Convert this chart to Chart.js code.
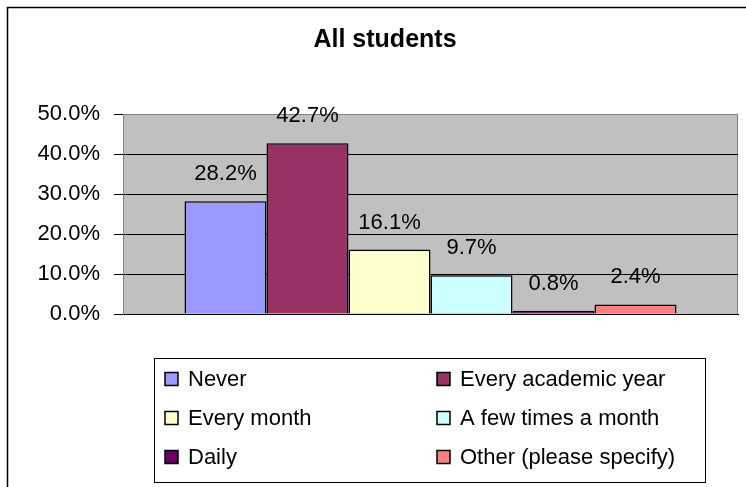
<!DOCTYPE html>
<html>
<head>
<meta charset="utf-8">
<script src="https://cdn.jsdelivr.net/npm/chart.js@4"></script>
<style>
  html, body { margin: 0; padding: 0; background: #fff; }
  canvas { display: block; }
</style>
</head>
<body>
<canvas id="myChart" width="746" height="487"></canvas>
<script>
"use strict"

const TITLE = "All students"
const CATEGORIES = [""]
const SERIES_NAMES = ["Never", "Every academic year", "Every month", "A few times a month", "Daily", "Other (please specify)"]
const SERIES_VALUES = [28.2, 42.7, 16.1, 9.7, 0.8, 2.4]
const SERIES_COLORS = ["#9999FF", "#993366", "#FFFFCC", "#CCFFFF", "#660066", "#FF8080"]
const Y_TICKS = [0, 10, 20, 30, 40, 50]

const FONT = "'Liberation Sans', Arial, sans-serif"

function pct(v) {
    return v.toFixed(1) + "%"
}

// grey plot area + page frame + title
const backdrop = {
    id: 'backdrop',
    beforeDraw(chart) {
        const ctx = chart.ctx
        const a = chart.chartArea
        ctx.save()
        ctx.fillStyle = "#fff"
        ctx.fillRect(0, 0, chart.width, chart.height)

        ctx.strokeStyle = "#000"
        ctx.lineWidth = 1.5
        ctx.strokeRect(7.5, 7.5, 900, 700)

        ctx.fillStyle = "#C0C0C0"
        ctx.fillRect(a.left, a.top, a.right - a.left, a.bottom - a.top)
        ctx.strokeStyle = "#808080"
        ctx.lineWidth = 1
        ctx.strokeRect(a.left + 0.5, a.top + 0.5, a.right - a.left - 1, a.bottom - a.top)

        ctx.fillStyle = "#000"
        ctx.font = "bold 25px " + FONT
        ctx.textAlign = "center"
        ctx.textBaseline = "alphabetic"
        ctx.fillText(TITLE, 385, 47)
        ctx.restore()
    }
}

// value labels above bars
const barLabels = {
    id: 'barLabels',
    afterDatasetsDraw(chart) {
        const ctx = chart.ctx
        ctx.save()
        ctx.fillStyle = "#000"
        ctx.font = "22px " + FONT
        ctx.textAlign = "center"
        ctx.textBaseline = "middle"
        chart.data.datasets.forEach((ds, i) => {
            const bar = chart.getDatasetMeta(i).data[0]
            ctx.fillText(pct(ds.data[0]), bar.x, bar.y - 27)
        })
        ctx.restore()
    }
}

// boxed two-column legend
const boxLegend = {
    id: 'boxLegend',
    afterDraw(chart) {
        const ctx = chart.ctx
        ctx.save()
        ctx.strokeStyle = "#000"
        ctx.lineWidth = 1
        ctx.strokeRect(154.5, 358.5, 551, 124)

        const colX = [165, 437]
        const rowY = [379, 418, 457]
        ctx.font = "22px " + FONT
        ctx.textAlign = "left"
        ctx.textBaseline = "middle"
        chart.data.datasets.forEach((ds, i) => {
            const x = colX[i % 2]
            const y = rowY[Math.floor(i / 2)]
            ctx.fillStyle = ds.backgroundColor
            ctx.fillRect(x, y - 6.5, 13, 13)
            ctx.strokeStyle = "#000"
            ctx.lineWidth = 1.5
            ctx.strokeRect(x, y - 6.5, 13, 13)
            ctx.fillStyle = "#000"
            ctx.fillText(ds.label, x + 23, y + 1)
        })
        ctx.restore()
    }
}

const datasets = SERIES_NAMES.map((name, i) => ({
    label: name,
    data: [SERIES_VALUES[i]],
    backgroundColor: SERIES_COLORS[i],
    borderColor: "#000",
    borderWidth: 1.5,
    borderSkipped: 'bottom',
    categoryPercentage: 0.8,
    barPercentage: 1.0,
}))

const ctx = document.getElementById('myChart').getContext('2d')
const chart = new Chart(ctx, {
    type: 'bar',
    data: {
        labels: CATEGORIES,
        datasets: datasets
    },
    options: {
        responsive: false,
        animation: false,
        devicePixelRatio: 1,
        layout: {
            padding: { top: 114, right: 8, bottom: 173, left: 0 }
        },
        plugins: {
            legend: { display: false },
            title: { display: false },
            tooltip: { enabled: false }
        },
        scales: {
            x: {
                ticks: { display: false },
                grid: { display: false },
                border: { display: true, color: "#000", width: 1 },
                afterFit(scale) {
                    scale.height = 0
                }
            },
            y: {
                min: 0,
                max: 50,
                afterBuildTicks(scale) {
                    scale.ticks = Y_TICKS.map(v => ({ value: v }))
                },
                afterFit(scale) {
                    scale.width = 123
                },
                ticks: {
                    callback: v => pct(v),
                    color: "#000",
                    font: { size: 22, family: FONT },
                    padding: 14
                },
                grid: {
                    color: c => c.tick && c.tick.value === 50 ? "#808080" : "#000",
                    tickColor: "#000",
                    tickLength: 9,
                    lineWidth: 1
                },
                border: { color: "#808080", width: 1 }
            }
        }
    },
    plugins: [backdrop, barLabels, boxLegend]
})
</script>
</body>
</html>
